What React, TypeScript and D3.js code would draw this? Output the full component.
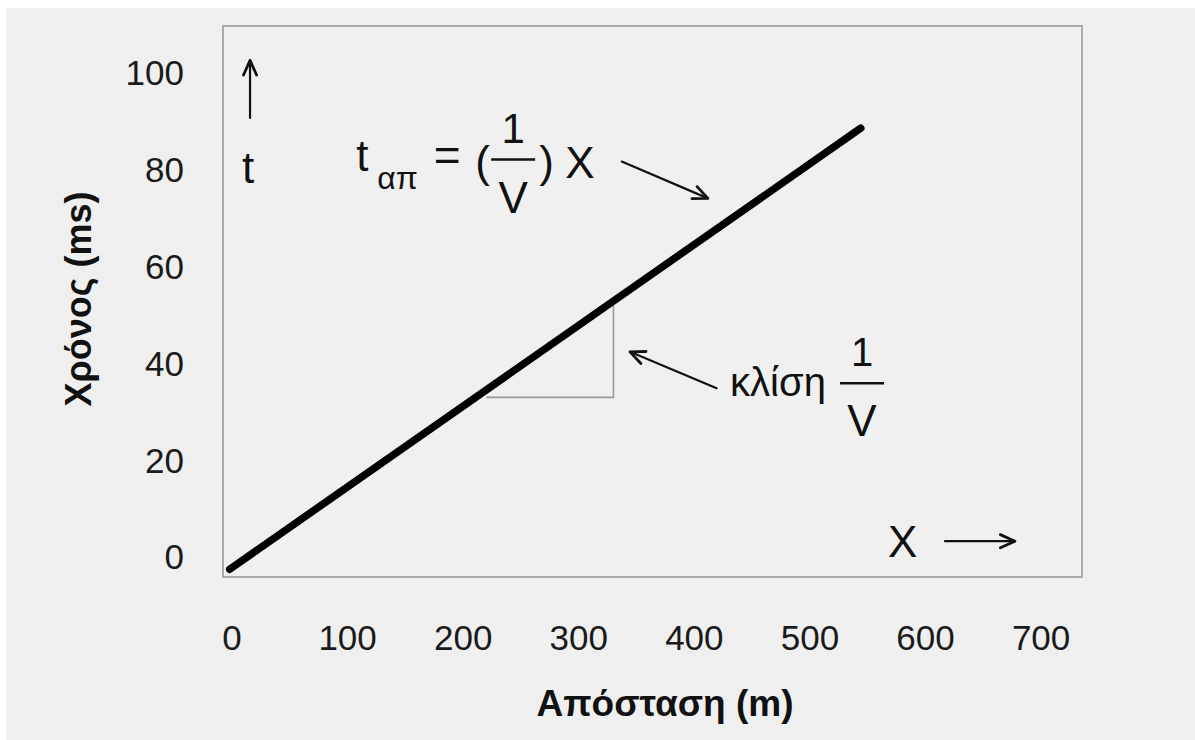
import React from "react";
import * as d3 from "d3";

// ---- data ----
const xTicks = [0, 100, 200, 300, 400, 500, 600, 700];
const yTicks = [0, 20, 40, 60, 80, 100];
// travel-time line: distance (m) -> time (ms)
const lineX = [-2, 544];
const lineT = [-2.5, 88.6];
// slope triangle (distance corners, time corners)
const triX = [220, 330];
const triT = [33, 52.6];
const xTitle = "Απόσταση (m)";
const yTitle = "Χρόνος (ms)";
const slopeLabel = "κλίση";

const W = 1195;
const H = 740;
const FONT = "'Liberation Sans', Arial, Helvetica, sans-serif";
const INK = "#111";

export default function App() {
  const plot = { left: 223, right: 1082, top: 26, bottom: 577 };
  const x = d3.scaleLinear().domain([-7.8, 735.4]).range([plot.left, plot.right]);
  const y = d3.scaleLinear().domain([-4.1, 109.7]).range([plot.bottom, plot.top]);

  const pts: [number, number][] = lineX.map((d, i) => [d, lineT[i]]);
  const line = d3
    .line<[number, number]>()
    .x((d) => x(d[0]))
    .y((d) => y(d[1]));

  const triPath = d3.path();
  triPath.moveTo(x(triX[0]), y(triT[0]));
  triPath.lineTo(x(triX[1]), y(triT[0]));
  triPath.lineTo(x(triX[1]), y(triT[1]));

  const arrow = (x1: number, y1: number, x2: number, y2: number, key: string) => {
    const px1 = x(x1), py1 = y(y1), px2 = x(x2), py2 = y(y2);
    const ang = Math.atan2(py2 - py1, px2 - px1);
    const L = 16, a = 0.42;
    const h1 = [px2 - L * Math.cos(ang - a), py2 - L * Math.sin(ang - a)];
    const h2 = [px2 - L * Math.cos(ang + a), py2 - L * Math.sin(ang + a)];
    return (
      <g key={key} stroke={INK} strokeWidth={2.2} fill="none" strokeLinecap="round" strokeLinejoin="round">
        <line x1={px1} y1={py1} x2={px2} y2={py2} />
        <polyline points={`${h1[0]},${h1[1]} ${px2},${py2} ${h2[0]},${h2[1]}`} strokeWidth={2.8} />
      </g>
    );
  };

  return (
    <svg
      width={W}
      height={H}
      style={{ position: "absolute", left: 0, top: 0, display: "block" }}
      fontFamily={FONT}
    >
      <rect x={0} y={0} width={W} height={H} fill="#ffffff" />
      <rect x={6} y={8} width={W - 6} height={H - 8} fill="#efefef" />

      {/* plot frame */}
      <rect
        x={plot.left}
        y={plot.top}
        width={plot.right - plot.left}
        height={plot.bottom - plot.top}
        fill="#f0f0f0"
        stroke="#aaaaaa"
        strokeWidth={2}
      />

      {/* y tick labels */}
      {yTicks.map((t) => (
        <text
          key={"y" + t}
          x={184}
          y={y(t)}
          dy="0.35em"
          textAnchor="end"
          fontSize={35}
          fill="#1a1a1a"
        >
          {t}
        </text>
      ))}

      {/* x tick labels */}
      {xTicks.map((t) => (
        <text
          key={"x" + t}
          x={x(t)}
          y={650}
          textAnchor="middle"
          fontSize={35}
          fill="#1a1a1a"
        >
          {t}
        </text>
      ))}

      {/* axis titles */}
      <text x={665} y={716} textAnchor="middle" fontSize={37} fontWeight="bold" fill={INK}>
        {xTitle}
      </text>
      <text
        transform={`translate(91,299) rotate(-90)`}
        textAnchor="middle"
        fontSize={36}
        fontWeight="bold"
        fill={INK}
      >
        {yTitle}
      </text>

      {/* slope triangle */}
      <path d={triPath.toString()} fill="none" stroke="#9a9a9a" strokeWidth={1.6} />

      {/* travel-time line */}
      <path
        d={line(pts) || ""}
        fill="none"
        stroke="#000"
        strokeWidth={7.5}
        strokeLinecap="round"
      />

      {/* t axis hint */}
      {arrow(15.6, 90.7, 15.6, 102.6, "ta")}
      <text x={x(14)} y={y(77.3)} textAnchor="middle" fontSize={44} fill={INK}>
        t
      </text>

      {/* X axis hint */}
      <text x={x(-7.8) + 665} y={y(0)} textAnchor="start" fontSize={44} fill={INK}>
        X
      </text>
      {arrow(616.9, 3.3, 677.4, 3.3, "xa")}

      {/* equation */}
      <g transform={`translate(${x(107.4)},${y(79.7)})`} fill={INK}>
        <text x={0} y={0} fontSize={44}>t</text>
        <text x={21} y={18} fontSize={32}>απ</text>
        <text x={91} y={0} textAnchor="middle" fontSize={46}>=</text>
        <text x={119} y={6} fontSize={44}>(</text>
        <text x={157} y={-28.5} textAnchor="middle" fontSize={42}>1</text>
        <line x1={135} x2={179} y1={-11.7} y2={-11.7} stroke={INK} strokeWidth={2.5} />
        <text x={157} y={41.3} textAnchor="middle" fontSize={44}>V</text>
        <text x={183} y={6} fontSize={44}>)</text>
        <text x={209} y={6.6} fontSize={44}>X</text>
      </g>
      {arrow(337.2, 81.7, 411.8, 74.1, "ea")}

      {/* slope label */}
      <g transform={`translate(${x(430.9)},${y(33.3)})`} fill={INK}>
        <text x={0} y={0} fontSize={40}>{slopeLabel}</text>
        <text x={132} y={-30} textAnchor="middle" fontSize={40}>1</text>
        <line x1={110} x2={154} y1={-12.7} y2={-12.7} stroke={INK} strokeWidth={2.5} />
        <text x={132} y={40} textAnchor="middle" fontSize={44}>V</text>
      </g>
      {arrow(419.3, 34.9, 344.3, 42.4, "sa")}
    </svg>
  );
}
